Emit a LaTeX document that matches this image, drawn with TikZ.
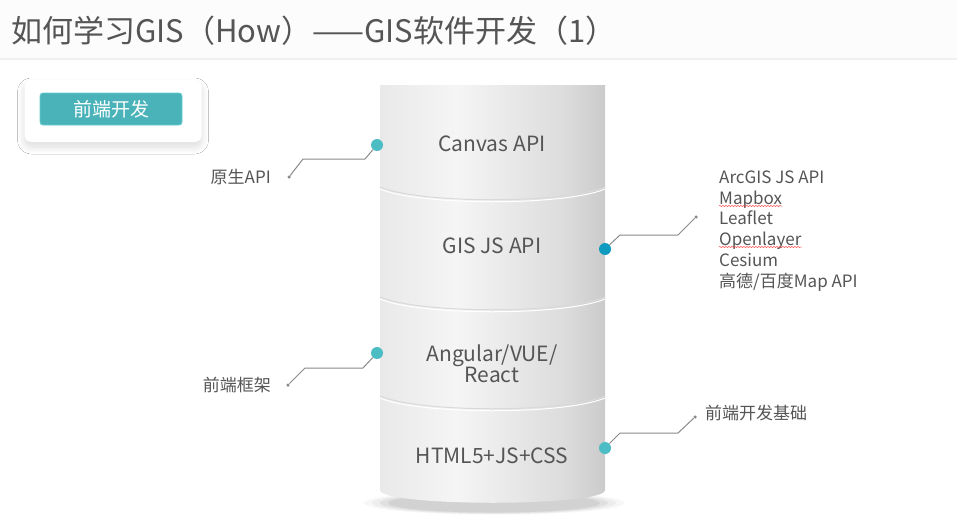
\documentclass[tikz,border=0pt]{standalone}
\usepackage{fontspec}
\setmainfont{Noto Sans CJK SC}
\usetikzlibrary{shadows.blur,decorations.pathmorphing}
\definecolor{tealdot}{HTML}{4DBDC5}
\definecolor{bluedot}{HTML}{0F9BC0}
\definecolor{btnfill}{HTML}{4AB3B9}
\definecolor{btnedge}{HTML}{63CDD2}
\definecolor{txtgray}{HTML}{555555}
\definecolor{wiregray}{HTML}{8A8A8A}
\definecolor{drumL}{HTML}{E9E9E9}
\definecolor{drumM}{HTML}{F5F5F5}
\definecolor{drumR}{HTML}{DCDCDC}
\definecolor{drumE}{HTML}{CBCBCB}
\pgfdeclarehorizontalshading{drum}{100bp}{color(0bp)=(drumL); color(25bp)=(drumL); color(42bp)=(drumM); color(66bp)=(drumR); color(75bp)=(drumE); color(100bp)=(drumE)}
\tikzset{
    dot/.style={circle,inner sep=0pt,minimum size=12pt},
    tip/.style={circle,fill=wiregray,inner sep=0pt,minimum size=3.5pt},
    wire/.style={draw=wiregray,line width=1pt},
    layer/.style={text=txtgray,font=\fontsize{21}{26}\selectfont,align=center},
    note/.style={text=txtgray,font=\fontsize{17}{20}\selectfont,inner sep=0pt},
    seam/.style={line width=1pt},
    squiggle/.style={draw=red!70,line width=0.5pt,decorate,decoration={snake,amplitude=0.6pt,segment length=3pt}}
}
\begin{document}
\begin{tikzpicture}[x=1pt,y=-1pt]
        \useasboundingbox (0,0) rectangle (957,519);
        \fill[white] (0,0) rectangle (957,519);
        \fill[gray!2] (0,0) rectangle (957,58);
        \draw[gray!12,line width=1.5pt] (0,59) -- (957,59);

        \node[anchor=base west,text=txtgray,font=\fontsize{31}{34}\selectfont,inner sep=0pt] (title) at (11,42) {如何学习GIS（How）——GIS软件开发（1）};

        \node[fill=white,rounded corners=7pt,minimum width=177pt,minimum height=62pt,blur shadow={shadow xshift=0pt,shadow yshift=-5pt,shadow blur radius=7pt,shadow blur steps=14,shadow opacity=14}] (card) at (113,111) {};
        \node[fill=btnfill,draw=btnedge,line width=0.8pt,rounded corners=3pt,minimum width=142pt,minimum height=32pt,text=white,font=\fontsize{19}{22}\selectfont] (btn) at (111,109) {前端开发};

        \foreach \r/\o in {130/0.03,122/0.04,114/0.05,106/0.06}
            \fill[black,opacity=\o] (494,503) ellipse ({\r pt} and {0.09*\r pt});

        \shade[shading=drum] (380,85) -- (380,490) .. controls (380,507) and (605,507) .. (605,490) -- (605,85) -- cycle;

        \draw[seam,gray!30] (380,187) .. controls (420,204) and (565,204) .. (605,187);
        \draw[seam,white] (380,189) .. controls (420,206) and (565,206) .. (605,189);
        \draw[seam,gray!30] (380,297) .. controls (420,314) and (565,314) .. (605,297);
        \draw[seam,white] (380,299) .. controls (420,316) and (565,316) .. (605,299);
        \draw[seam,gray!30] (380,396) .. controls (420,413) and (565,413) .. (605,396);
        \draw[seam,white] (380,398) .. controls (420,415) and (565,415) .. (605,398);

        \node[layer,anchor=base] (canvas) at (492,151) {Canvas API};
        \node[layer,anchor=base] (gisjs) at (492,253) {GIS JS API};
        \node[layer,anchor=base] (frame) at (492,361) {Angular/VUE/};
        \node[layer,anchor=base] (react) at (492,382) {React};
        \node[layer,anchor=base] (html) at (492,463) {HTML5+JS+CSS};

        \node[dot,fill=tealdot] (p1) at (377,145) {};
        \node[dot,fill=bluedot] (p2) at (605,249) {};
        \node[dot,fill=tealdot] (p3) at (377,353) {};
        \node[dot,fill=tealdot] (p4) at (605,448) {};

        \coordinate (a1) at (365,159);
        \coordinate (b1) at (303,159);
        \node[tip] (e1) at (289,177) {};
        \coordinate (a2) at (620,235);
        \coordinate (b2) at (678,235);
        \node[tip] (e2) at (696,217) {};
        \coordinate (a3) at (363,368);
        \coordinate (b3) at (305,368);
        \node[tip] (e3) at (288,385) {};
        \coordinate (a4) at (620,433);
        \coordinate (b4) at (678,433);
        \node[tip] (e4) at (695,417) {};

        \draw[wire] (p1) -- (a1) -- (b1) -- (e1);
        \draw[wire] (p2) -- (a2) -- (b2) -- (e2);
        \draw[wire] (p3) -- (a3) -- (b3) -- (e3);
        \draw[wire] (p4) -- (a4) -- (b4) -- (e4);

        \node[note,anchor=base east] (native) at (271,183) {原生API};
        \node[note,anchor=base east] (fw) at (271,391) {前端框架};
        \node[note,anchor=base west] (basis) at (705,419) {前端开发基础};

        \node[note,anchor=base west] (lib1) at (719,183) {ArcGIS JS API};
        \node[note,anchor=base west] (lib2) at (719,204) {Mapbox};
        \node[note,anchor=base west] (lib3) at (719,224) {Leaflet};
        \node[note,anchor=base west] (lib4) at (719,245) {Openlayer};
        \node[note,anchor=base west] (lib5) at (719,266) {Cesium};
        \node[note,anchor=base west] (lib6) at (719,287) {高德/百度Map API};

        \draw[squiggle] ([yshift=-2pt]lib2.base west) -- ([yshift=-2pt]lib2.base east);
        \draw[squiggle] ([yshift=-2pt]lib4.base west) -- ([yshift=-2pt]lib4.base east);
\end{tikzpicture}
\end{document}
